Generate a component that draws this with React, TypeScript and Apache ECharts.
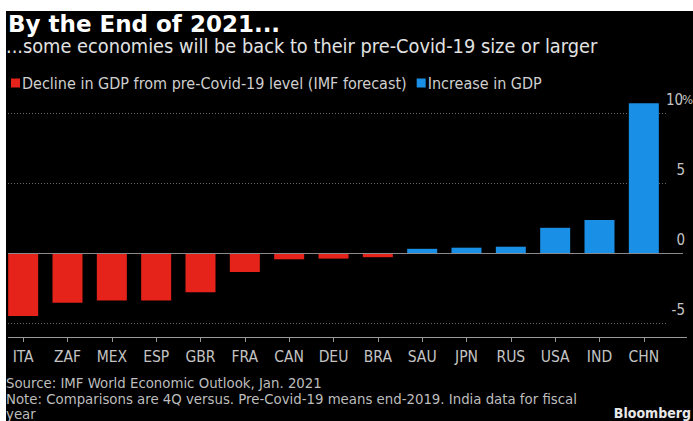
import React, { useEffect, useRef } from 'react';
import * as echarts from 'echarts';

const categories = ['ITA', 'ZAF', 'MEX', 'ESP', 'GBR', 'FRA', 'CAN', 'DEU', 'BRA', 'SAU', 'JPN', 'RUS', 'USA', 'IND', 'CHN'];
const gdpChange = [-4.5, -3.55, -3.4, -3.4, -2.8, -1.35, -0.45, -0.4, -0.3, 0.3, 0.38, 0.45, 1.8, 2.35, 10.7];
const seriesNames = ['Decline in GDP from pre-Covid-19 level (IMF forecast)', 'Increase in GDP'];
const yLabelValues = [-5, 0, 5, 10];
const dottedGridValues = [-5, 5, 10];
const yMin = -6;
const yMax = 11;

const titleText = 'By the End of 2021...';
const subtitleText = '...some economies will be back to their pre-Covid-19 size or larger';
const sourceText = 'Source: IMF World Economic Outlook, Jan. 2021';
const noteLines = ['Note: Comparisons are 4Q versus. Pre-Covid-19 means end-2019. India data for fiscal', 'year'];

const FONT = '"DejaVu Sans Condensed", "Liberation Sans Narrow", "DejaVu Sans", sans-serif';
const BOLD_FONT = '"DejaVu Sans", sans-serif';
const RED = '#e5231b';
const BLUE = '#1a8fe6';

export default function App() {
  const ref = useRef<HTMLDivElement>(null);
  useEffect(() => {
    if (!ref.current) return;
    const chart = echarts.init(ref.current, null, { renderer: 'svg' });
    const declines = gdpChange.map((v) => (v < 0 ? v : null));
    const increases = gdpChange.map((v) => (v >= 0 ? v : null));

    const smallFont = `14.8px ${FONT}`;
    const staticGraphics: any[] = [
      { id: 'bg', type: 'rect', z: -10, silent: true, shape: { x: 6, y: 11, width: 700, height: 420 }, style: { fill: '#000' } },
      { id: 'title', type: 'text', x: 8, y: 12, style: { text: titleText, fill: '#ffffff', font: `bold 23px ${BOLD_FONT}` } },
      { id: 'subtitle', type: 'text', x: 6, y: 36, style: { text: subtitleText, fill: '#e2e2e2', font: `19.8px ${FONT}` } },
      { id: 'source', type: 'text', x: 6, y: 375, style: { text: sourceText, fill: '#bdbdbd', font: smallFont, lineHeight: 15 } },
      { id: 'note1', type: 'text', x: 6, y: 390.5, style: { text: noteLines[0], fill: '#bdbdbd', font: smallFont, lineHeight: 15 } },
      { id: 'note2', type: 'text', x: 6, y: 406, style: { text: noteLines[1], fill: '#bdbdbd', font: smallFont, lineHeight: 15 } },
      { id: 'brand', type: 'text', x: 691, y: 406, style: { text: 'Bloomberg', fill: '#e8e8e8', align: 'right', font: `bold 14px ${FONT}` } },
    ];

    chart.setOption({
      animation: false,
      backgroundColor: '#ffffff',
      textStyle: { fontFamily: FONT },
      grid: { left: 1, right: 27, top: 99, bottom: 84, outerBoundsMode: 'none', containLabel: false },
      legend: {
        left: 6,
        top: 70,
        itemWidth: 9,
        itemHeight: 9,
        itemGap: 10,
        icon: 'rect',
        textStyle: { color: '#cfcfcf', fontSize: 16, fontFamily: FONT, padding: [0, 0, 0, -3] },
        data: seriesNames,
      },
      xAxis: {
        type: 'category',
        data: categories,
        axisLine: { show: false, onZero: false },
        axisTick: { show: true, alignWithLabel: true, length: 5, lineStyle: { color: '#999' } },
        axisLabel: { color: '#c4c4c4', fontSize: 15.5, margin: 12, fontFamily: FONT },
        splitLine: { show: false },
      },
      yAxis: {
        type: 'value',
        position: 'right',
        min: yMin,
        max: yMax,
        splitLine: { show: false },
        axisLine: { show: false },
        axisTick: { show: false },
        axisLabel: {
          customValues: yLabelValues,
          margin: 1,
          verticalAlign: 'bottom',
          padding: [0, 0, 6, 0],
          fontSize: 15,
          color: '#c4c4c4',
          fontFamily: FONT,
          formatter: (v: number) => (v === 10 ? `{m|${v}}{p|%}` : `{n|${v}}`),
          rich: {
            n: { width: 18, align: 'right', fontSize: 15, color: '#c4c4c4', fontFamily: FONT },
            m: { width: 15, align: 'right', fontSize: 15, color: '#c4c4c4', fontFamily: FONT },
            p: { fontSize: 13, color: '#c4c4c4', fontFamily: FONT },
          },
        },
      },
      series: [
        {
          name: seriesNames[0],
          type: 'bar',
          stack: 'gdp',
          barWidth: 30,
          itemStyle: { color: RED },
          data: declines,
        },
        {
          name: seriesNames[1],
          type: 'bar',
          stack: 'gdp',
          barWidth: 30,
          itemStyle: { color: BLUE },
          data: increases,
        },
      ],
      graphic: staticGraphics,
    });

    const yPix = (v: number) => chart.convertToPixel({ yAxisIndex: 0 }, v) as number;
    const lines: any[] = dottedGridValues.map((v, i) => ({
      id: 'grid' + i,
      type: 'line',
      silent: true,
      z: -1,
      shape: { x1: 8, y1: Math.round(yPix(v)) + 0.5, x2: 666, y2: Math.round(yPix(v)) + 0.5 },
      style: { stroke: '#6a6a6a', lineWidth: 1, lineDash: [1, 2] },
    }));
    lines.push({
      id: 'zero',
      type: 'line',
      silent: true,
      z: 5,
      shape: { x1: 8, y1: Math.round(yPix(0)) + 0.5, x2: 683, y2: Math.round(yPix(0)) + 0.5 },
      style: { stroke: '#8a8a8a', lineWidth: 1 },
    });
    lines.push({
      id: 'axis',
      type: 'line',
      silent: true,
      z: 5,
      shape: { x1: 8, y1: Math.round(yPix(yMin)) + 0.5, x2: 687, y2: Math.round(yPix(yMin)) + 0.5 },
      style: { stroke: '#9a9a9a', lineWidth: 1 },
    });
    chart.setOption({ graphic: [...staticGraphics, ...lines] });

    return () => chart.dispose();
  }, []);

  return (
    <div style={{ position: 'fixed', left: 0, top: 0, width: 693, height: 421, background: '#fff' }}>
      <div ref={ref} style={{ width: 693, height: 421 }} />
    </div>
  );
}
